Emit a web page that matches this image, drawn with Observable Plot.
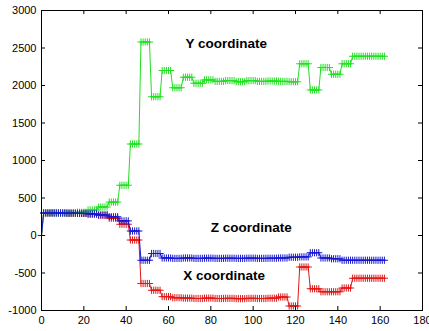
<!DOCTYPE html>
<html><head><meta charset="utf-8">
<script src="https://cdn.jsdelivr.net/npm/d3@7"></script>
<script src="https://cdn.jsdelivr.net/npm/@observablehq/plot@0.6"></script>
<style>html,body{margin:0;padding:0;background:#fff} svg{display:block}</style>
</head><body><div id="chart"></div>
<script>
// X coordinate (red), one value per sample index 0..162
const xCoord = [
  0, 300,
  300,300,300,300,300,  300,300,300,300,300,  295,295,295,295,295,  295,295,295,295,295,
  285,285,285,285,285,  270,270,270,270,270,  230,230,230,230,230,  150,150,150,150,150,
  -60,-60,-60,-60,-60,  -640,-640,-640,-640,-640,  -730,-730,-730,-730,-730,  -815,-815,-815,-815,-815,
  -830,-830,-830,-830,-830,  -835,-835,-835,-835,-835,  -840,-840,-840,-840,-840,  -835,-835,-835,-835,-835,
  -840,-840,-840,-840,-840,  -838,-838,-838,-838,-838,  -842,-842,-842,-842,-842,  -838,-838,-838,-838,-838,
  -840,-840,-840,-840,-840,  -836,-836,-836,-836,-836,  -820,-820,-820,-820,-820,  -940,-940,-940,-940,-940,
  -420,-420,-420,-420,-420,  -710,-710,-710,-710,-710,  -750,-750,-750,-750,-750,  -750,-750,-750,-750,-750,
  -700,-700,-700,-700,-700,  -570,-570,-570,-570,-570,  -570,-570,-570,-570,-570,  -570,-570,-570,-570,-570,
  -570
];
// Y coordinate (green)
const yCoord = [
  0, 300,
  300,300,300,300,300,  300,300,300,300,300,  300,300,300,300,300,  310,310,310,310,310,
  340,340,340,340,340,  380,380,380,380,380,  445,445,445,445,445,  670,670,670,670,670,
  1220,1220,1220,1220,1220,  2580,2580,2580,2580,2580,  1850,1850,1850,1850,1850,  2200,2200,2200,2200,2200,
  1970,1970,1970,1970,1970,  2110,2110,2110,2110,2110,  2030,2030,2030,2030,2030,  2075,2075,2075,2075,2075,
  2055,2055,2055,2055,2055,  2065,2065,2065,2065,2065,  2050,2050,2050,2050,2050,  2065,2065,2065,2065,2065,
  2055,2055,2055,2055,2055,  2060,2060,2060,2060,2060,  2055,2055,2055,2055,2055,  2050,2050,2050,2050,2050,
  2290,2290,2290,2290,2290,  1940,1940,1940,1940,1940,  2240,2240,2240,2240,2240,  2150,2150,2150,2150,2150,
  2290,2290,2290,2290,2290,  2390,2390,2390,2390,2390,  2390,2390,2390,2390,2390,  2390,2390,2390,2390,2390,
  2390
];
// Z coordinate (blue)
const zCoord = [
  0, 300,
  300,300,300,300,300,  300,300,300,300,300,  298,298,298,298,298,  295,295,295,295,295,
  288,288,288,288,288,  275,275,275,275,275,  250,250,250,250,250,  195,195,195,195,195,
  60,60,60,60,60,  -330,-330,-330,-330,-330,  -240,-240,-240,-240,-240,  -300,-300,-300,-300,-300,
  -305,-305,-305,-305,-305,  -300,-300,-300,-300,-300,  -305,-305,-305,-305,-305,  -302,-302,-302,-302,-302,
  -305,-305,-305,-305,-305,  -303,-303,-303,-303,-303,  -305,-305,-305,-305,-305,  -302,-302,-302,-302,-302,
  -305,-305,-305,-305,-305,  -303,-303,-303,-303,-303,  -300,-300,-300,-300,-300,  -290,-290,-290,-290,-290,
  -285,-285,-285,-285,-285,  -230,-230,-230,-230,-230,  -300,-300,-300,-300,-300,  -310,-310,-310,-310,-310,
  -330,-330,-330,-330,-330,  -330,-330,-330,-330,-330,  -330,-330,-330,-330,-330,  -330,-330,-330,-330,-330,
  -330
];
const seriesNames = ["X coordinate", "Y coordinate", "Z coordinate"];
const seriesColors = ["#e01818", "#22e022", "#1818d0"];
const xTicks = [0, 20, 40, 60, 80, 100, 120, 140, 160, 180];
const yTicks = [-1000, -500, 0, 500, 1000, 1500, 2000, 2500, 3000];
const labelText = ["Y coordinate", "Z coordinate", "X coordinate"];
const labelX = [68, 80, 67];
const labelY = [2555, 110, -535];

const seriesValues = [xCoord, yCoord, zCoord];
const labels = labelText.map((t, k) => ({text: t, x: labelX[k], y: labelY[k]}));

const plusSymbol = {
  draw(ctx, size) {
    const r = Math.sqrt(size / Math.PI);
    ctx.moveTo(-r, 0); ctx.lineTo(r, 0);
    ctx.moveTo(0, -r); ctx.lineTo(0, r);
  }
};

const W = 429, H = 331, mL = 41, mR = 7, mT = 10, mB = 21;
const pw = W - mL - mR, ph = H - mT - mB;

const marks = [];
seriesValues.forEach((vals, k) => {
  const rows = vals.map((v, i) => ({i, v}));
  marks.push(Plot.line(rows, {x: "i", y: "v", stroke: seriesColors[k], strokeWidth: 1}));
  marks.push(Plot.dot(rows, {x: "i", y: "v", symbol: plusSymbol, r: 3.6, fill: "none", stroke: seriesColors[k], strokeWidth: 1}));
});

const chart = Plot.plot({
  width: W, height: H,
  marginLeft: mL, marginRight: mR, marginTop: mT, marginBottom: mB,
  style: {fontFamily: "'Liberation Sans', Arial, sans-serif", fontSize: "11px", color: "#000", background: "#fff"},
  x: {domain: [0, 180]},
  y: {domain: [-1000, 3000]},
  marks: [
    Plot.axisX(xTicks, {tickSize: 0, tickPadding: 6, tickFormat: d => String(d), label: null}),
    Plot.axisY(yTicks, {tickSize: 0, tickPadding: 5, tickFormat: d => String(d), label: null}),
    ...marks,
    Plot.text(labels, {x: "x", y: "y", text: "text", textAnchor: "start", fontWeight: "bold", fontSize: 13.5, fill: "#000"}),
    Plot.tickX(xTicks, {x: d => d, insetTop: ph - 4, stroke: "#000"}),
    Plot.tickX(xTicks, {x: d => d, insetBottom: ph - 4, stroke: "#000"}),
    Plot.tickY(yTicks, {y: d => d, insetRight: pw - 4, stroke: "#000"}),
    Plot.tickY(yTicks, {y: d => d, insetLeft: pw - 4, stroke: "#000"}),
    Plot.frame({stroke: "#000"})
  ]
});
document.getElementById("chart").appendChild(chart);
</script>
</body></html>
